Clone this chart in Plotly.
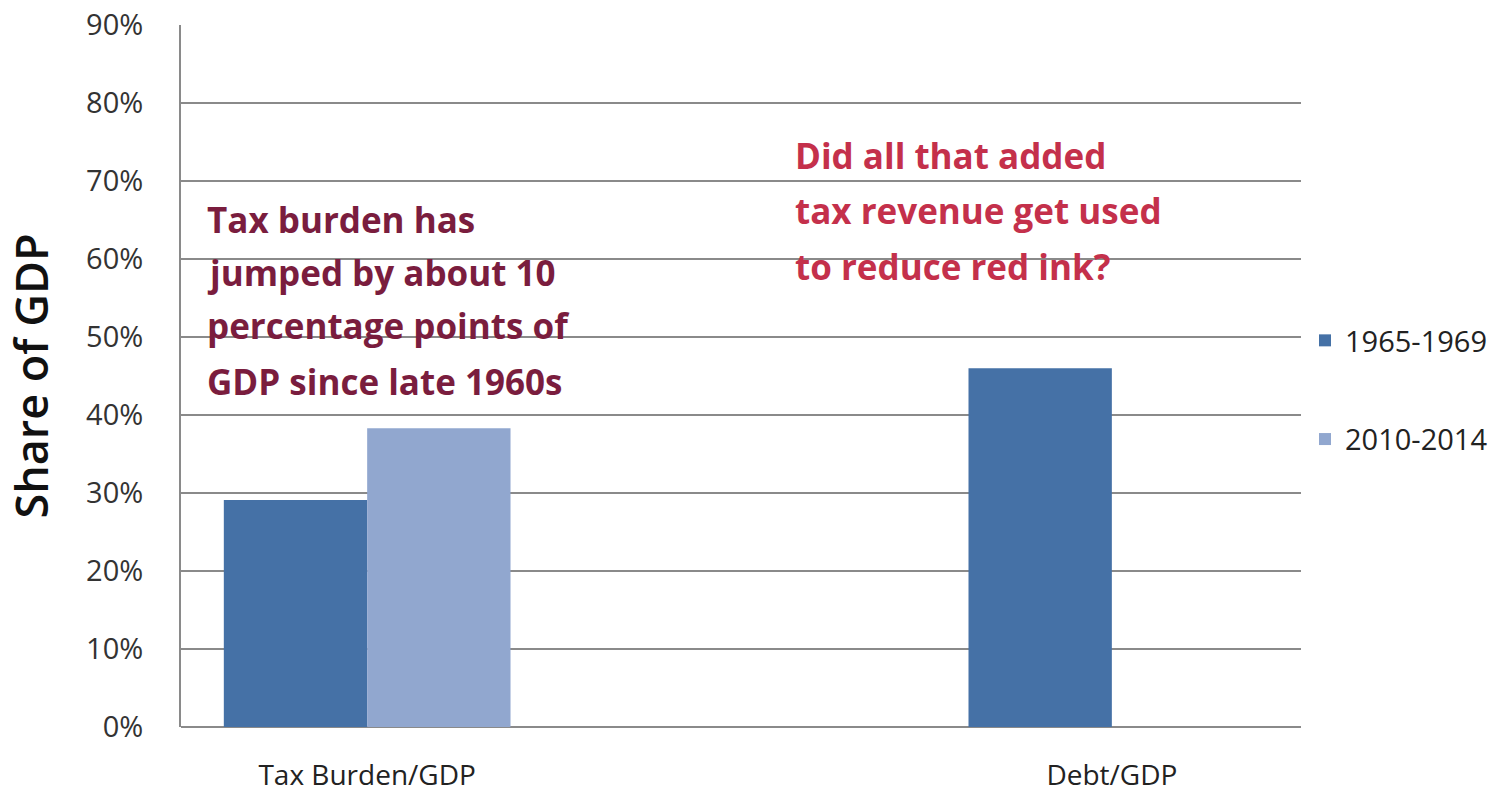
import plotly.graph_objects as go

# Categories and series values (share of GDP)
categories = ["Tax Burden/GDP", "Debt/GDP"]
series_names = ["1965-1969", "2010-2014"]
values_1965_1969 = [0.291, 0.46]
values_2010_2014 = [0.383, None]

y_ticks = [0.0, 0.1, 0.2, 0.3, 0.4, 0.5, 0.6, 0.7, 0.8, 0.9]

note_left = ["Tax burden has", "jumped by about 10",
             "percentage points of", "GDP since late 1960s"]
note_right = ["Did all that added", "tax revenue get used",
              "to reduce red ink?"]

dark_blue = "#4571a6"
light_blue = "#91a7cf"
grid_grey = "#8a8a8a"
label_grey = "#333333"

x_pos = list(range(len(categories)))

fig = go.Figure()
fig.add_trace(go.Bar(
    x=x_pos, y=values_1965_1969, name=series_names[0],
    marker=dict(color=dark_blue, line=dict(width=0)),
    legendgroup="a",
))
fig.add_trace(go.Bar(
    x=x_pos, y=values_2010_2014, name=series_names[1],
    marker=dict(color=light_blue, line=dict(width=0)),
    legendgroup="b",
))

# Plot area spans px 181..1301 horizontally, 25..727 vertically
L, R, T, B = 181, 1301, 25, 727


def px_x(p):
    return (p - L) / (R - L)


def px_y(p):
    return (B - p) / (B - T)


note_font = "Open Sans"
annotations = []
for txt, yc in zip(note_left, [219, 272, 326, 381]):
    annotations.append(dict(
        text=txt, xref="paper", yref="paper", x=px_x(205), y=px_y(yc),
        xanchor="left", yanchor="middle", showarrow=False,
        font=dict(family=note_font, size=35, color="#7a1d3e", weight="bold"),
    ))
for txt, yc in zip(note_right, [156, 211, 266]):
    annotations.append(dict(
        text=txt, xref="paper", yref="paper", x=px_x(793), y=px_y(yc),
        xanchor="left", yanchor="middle", showarrow=False,
        font=dict(family=note_font, size=35, color="#c4304b", weight="bold"),
    ))

fig.update_layout(
    width=1499, height=793,
    margin=dict(l=L, r=1499 - R, t=T, b=793 - B, autoexpand=False),
    paper_bgcolor="white", plot_bgcolor="white",
    barmode="group", bargap=0.615, bargroupgap=0,
    font=dict(family="Open Sans", color=label_grey),
    legend=dict(
        x=px_x(1305), xanchor="left", y=px_y(315), yanchor="top",
        font=dict(family="Open Sans", size=29, color="#222222"),
        tracegroupgap=58, bgcolor="rgba(0,0,0,0)",
        itemclick=False,
    ),
    annotations=annotations,
    showlegend=True,
)

fig.update_xaxes(
    range=[-0.25, 1.254],
    tickvals=x_pos, ticktext=categories,
    tickfont=dict(family="Open Sans", size=28, color="#222222"),
    showgrid=False, zeroline=False, showline=False,
    ticks="", ticklabelstandoff=29, automargin=False,
)
fig.update_yaxes(
    range=[0, 0.9], tickvals=y_ticks, tickformat=".0%",
    tickfont=dict(family="Open Sans", size=29, color=label_grey),
    showgrid=True, gridcolor=grid_grey, gridwidth=2,
    zeroline=True, zerolinecolor=grid_grey, zerolinewidth=2,
    showline=True, linecolor=grid_grey, linewidth=2,
    ticks="", ticklabelstandoff=30, automargin=False,
    title=dict(text="Share of GDP",
               font=dict(family="Open Sans", size=45, color="#111111",
                         weight=600),
               standoff=36),
)

fig.write_html("out.html")
